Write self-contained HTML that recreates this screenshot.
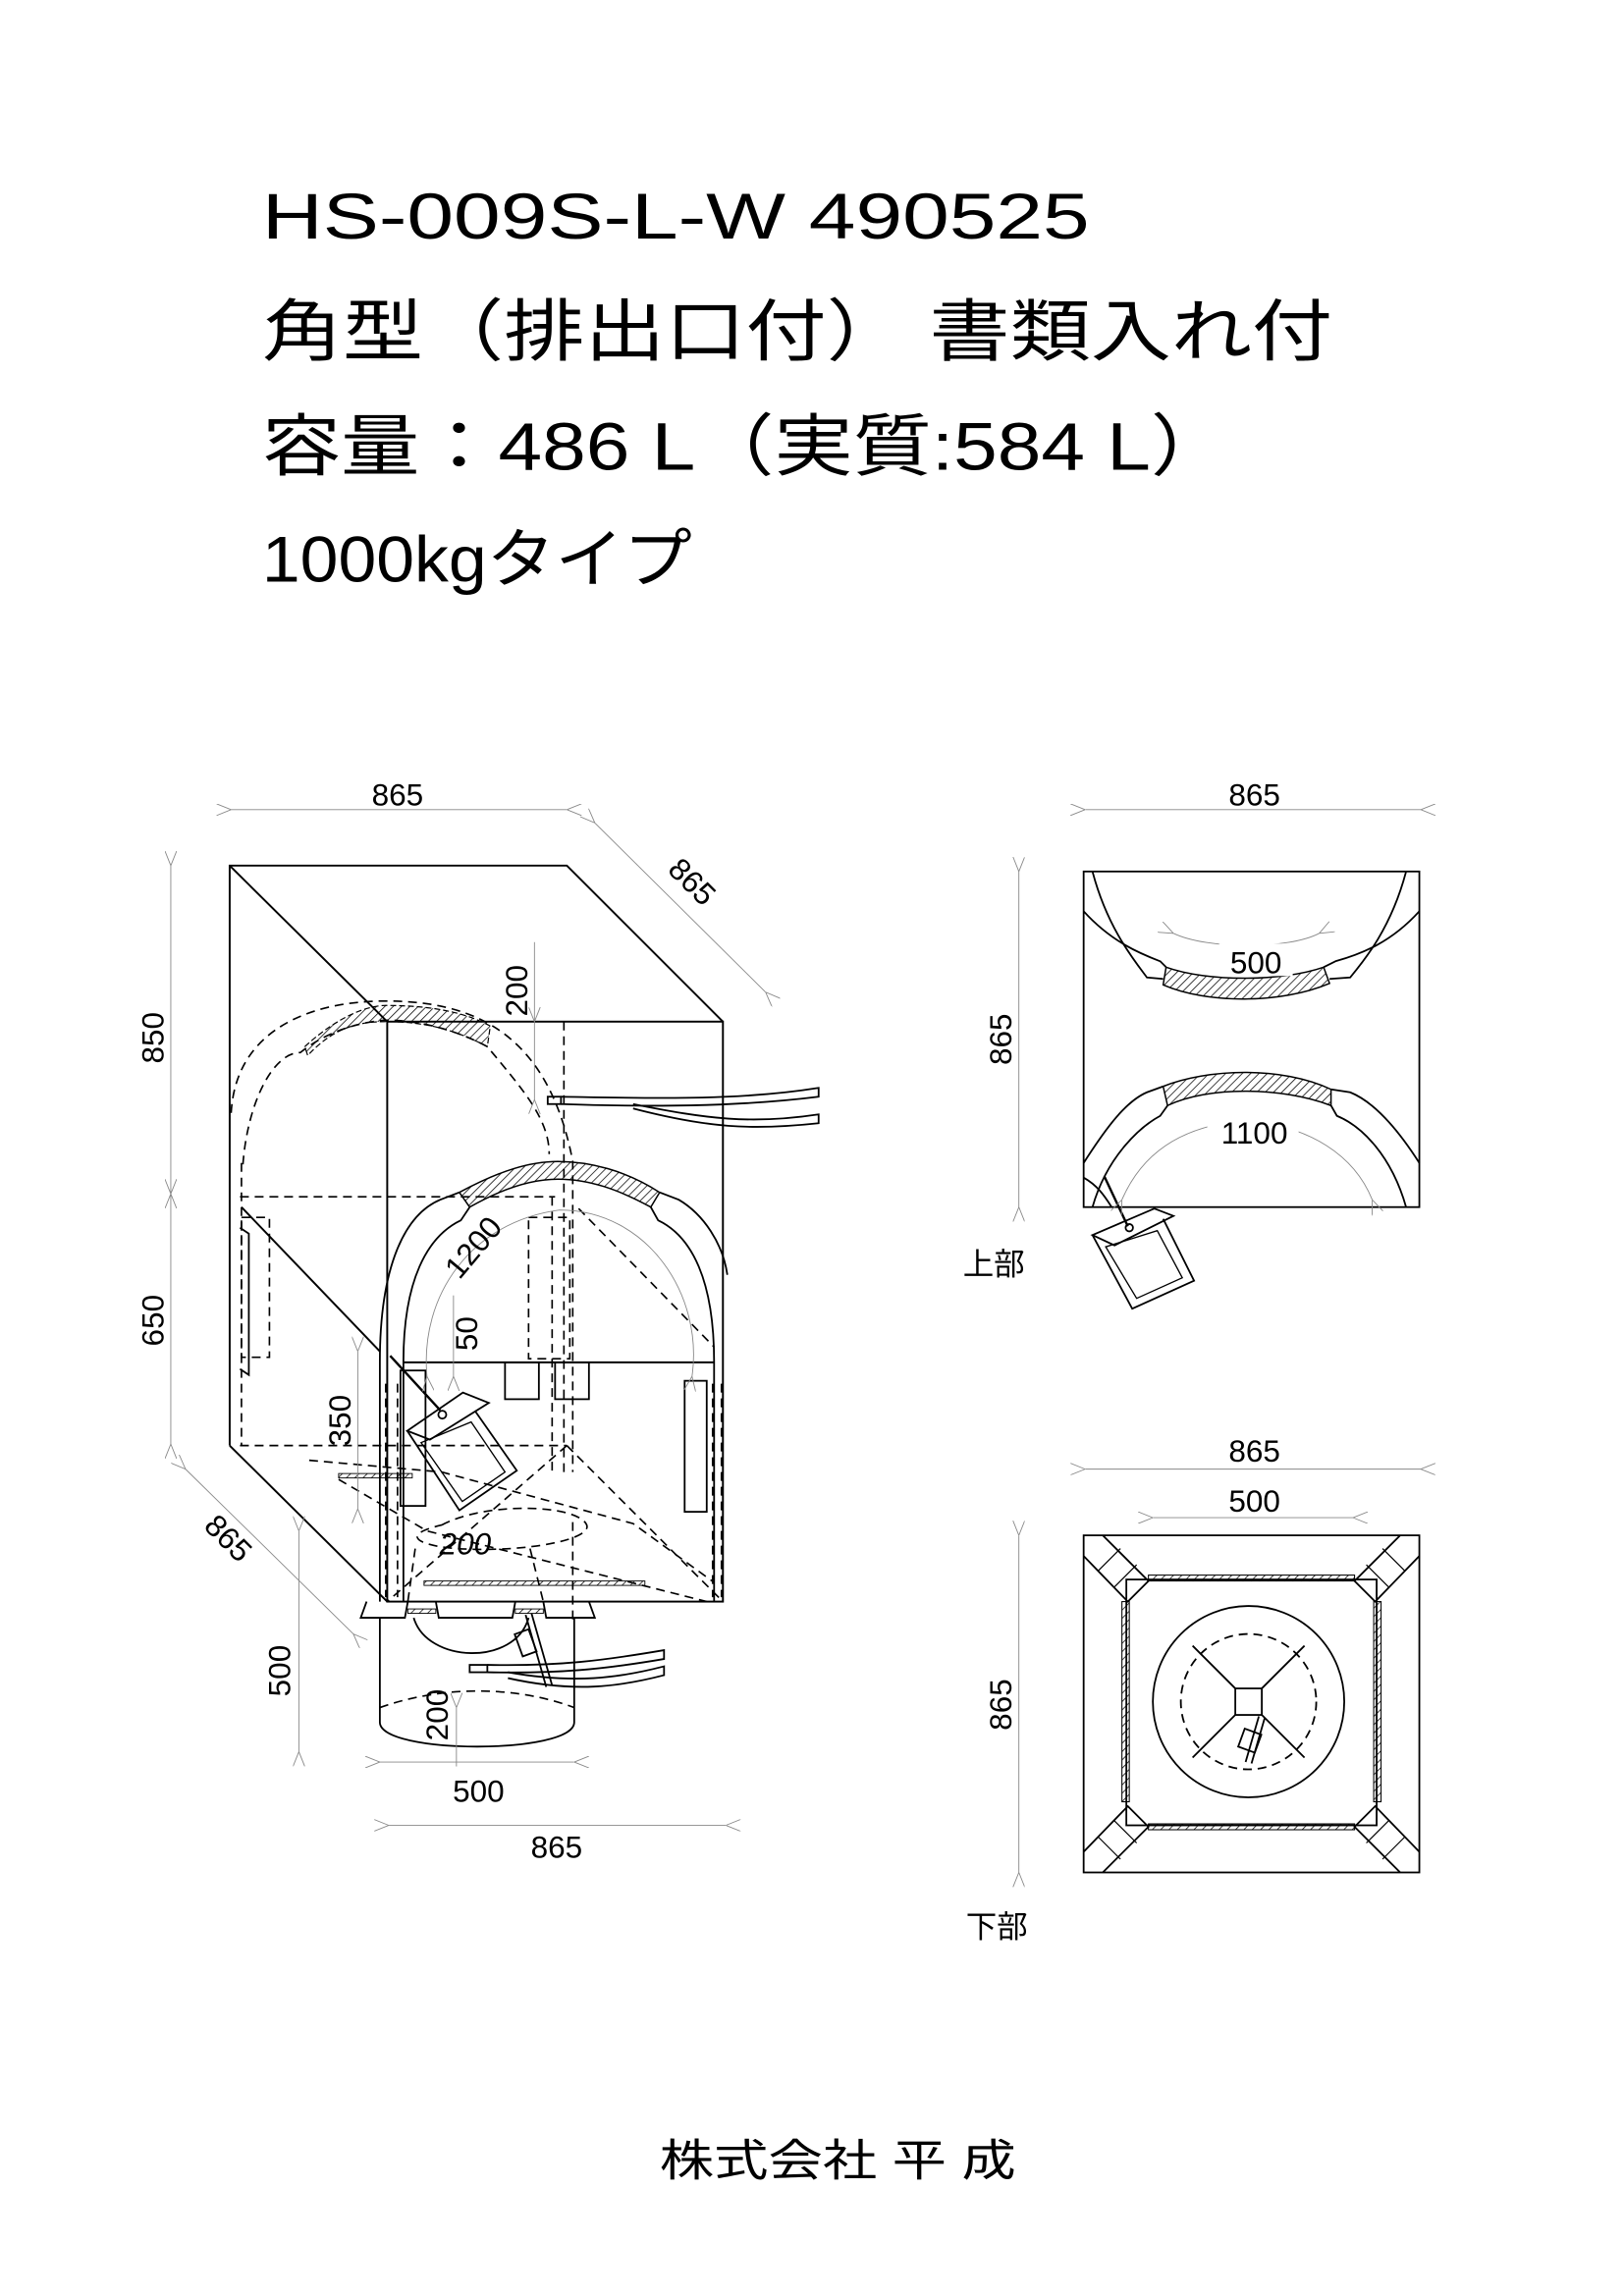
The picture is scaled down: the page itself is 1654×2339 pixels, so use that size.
<!DOCTYPE html>
<html><head><meta charset="utf-8"><style>
html,body{margin:0;padding:0;background:#fff}
svg{display:block}
text{font-family:"Liberation Sans","Noto Sans CJK JP",sans-serif;fill:#000}
</style></head><body>
<svg width="1654" height="2339" viewBox="0 0 1103 1559.7" xmlns="http://www.w3.org/2000/svg">
<defs>
<pattern id="h" width="4" height="4" patternUnits="userSpaceOnUse" patternTransform="rotate(45)">
<line x1="0" y1="0" x2="0" y2="4" stroke="#000" stroke-width="1"/></pattern>
<marker id="a" markerWidth="10" markerHeight="8" refX="0" refY="4" orient="auto-start-reverse" markerUnits="userSpaceOnUse">
<path d="M10,0 L0,4 L10,8" fill="none" stroke="#888" stroke-width="0.6"/></marker>
</defs>
<rect width="1103" height="1560" fill="#fff"/>

<!-- titles -->
<text x="178" y="162" font-size="44" textLength="562" lengthAdjust="spacingAndGlyphs">HS-009S-L-W  490525</text>
<text x="178" y="241" font-size="46" textLength="727" lengthAdjust="spacingAndGlyphs">角型（排出口付） 書類入れ付</text>
<text x="178" y="319" font-size="46" textLength="657" lengthAdjust="spacingAndGlyphs">容量：486 L（実質:584 L）</text>
<text x="178" y="395" font-size="44" textLength="292" lengthAdjust="spacingAndGlyphs">1000kgタイプ</text>

<g fill="none" stroke="#000" stroke-width="1.3">
<!-- back box -->
<polyline points="156,982 156,588 385,588 491,694"/>
<line x1="156" y1="588" x2="263" y2="694"/>
<line x1="156" y1="982" x2="263" y2="1088"/>
<line x1="164" y1="820" x2="258" y2="918"/>
<!-- front face -->
<rect x="263" y="694" width="228" height="394"/>
<line x1="274" y1="925.5" x2="485" y2="925.5"/>
</g>
<!-- hidden lines -->
<g fill="none" stroke="#000" stroke-width="1.1" stroke-dasharray="6,4">
<line x1="383" y1="694" x2="383" y2="1000"/>
<line x1="375" y1="813" x2="375" y2="1000"/>
<line x1="163" y1="813" x2="377" y2="813"/>
<line x1="164" y1="790" x2="164" y2="982"/>
<line x1="163" y1="982" x2="385" y2="982"/>
<line x1="385" y1="982" x2="491" y2="1088"/>
<line x1="385" y1="982" x2="263" y2="1088"/>
<line x1="393" y1="821" x2="485" y2="915"/>
<rect x="359" y="827" width="28" height="96"/>
<rect x="164" y="827" width="19" height="95"/>
<!-- back arch -->
<path d="M157,756 C160,700 210,680 262,680 C320,680 372,700 389,789 L389,1000"/>
<path d="M165,791 C168,750 185,715 204,715 C230,694 262,693 262,693 C300,693 331,711 331,711 C355,740 373,760 373,784"/>
<!-- bottom cone inside -->
<path d="M300,1036 C330,1020 390,1022 398,1035 C405,1045 360,1055 310,1052 C285,1050 270,1043 300,1036"/>
<line x1="282" y1="1052" x2="277" y2="1088"/>
<line x1="360" y1="1052" x2="369" y2="1088"/>
<line x1="389" y1="1034" x2="389" y2="1100"/>
<path d="M210,992 L300,1000 L430,1035 L485,1075"/>
<path d="M230,1005 L290,1040 L480,1088"/>
<!-- spout top dashed -->
<path d="M258,1160 C300,1145 350,1145 390,1160"/>
<!-- side legs dashed -->
<line x1="262" y1="940" x2="262" y2="1085"/>
<line x1="270" y1="940" x2="270" y2="1085"/>
<line x1="484" y1="940" x2="484" y2="1085"/>
<line x1="490" y1="940" x2="490" y2="1085"/>
</g>
<!-- hatched bands -->
<path d="M207,711 C230,690 250,683 262,683 C300,683 320,690 333,697 L331,711 C310,700 290,694 262,694 C240,694 225,700 209,717 Z" fill="url(#h)" stroke="#000" stroke-width="0.8" stroke-dasharray="4,2"/>
<path d="M312,810 C340,795 360,789 379,789 C400,789 425,795 448,810 L442,820 C420,808 400,801 379,801 C360,801 340,808 319,820 Z" fill="url(#h)" stroke="#000" stroke-width="1"/>
<g fill="url(#h)" stroke="#000" stroke-width="0.6">
<rect x="230" y="1001" width="50" height="3"/>
<rect x="288" y="1074" width="150" height="3"/>
<rect x="277" y="1093" width="19" height="3"/>
<rect x="350" y="1093" width="19" height="3"/>
</g>
<g fill="none" stroke="#000" stroke-width="1.2">
<!-- front arch -->
<path d="M258,1088 L258,925 C258,860 275,825 299,815 L312,810"/>
<path d="M448,810 L461,815 C478,825 491,845 494,866"/>
<path d="M274,1088 L274,925 C274,870 290,840 313,829 L319,820"/>
<path d="M442,820 L447,829 C470,840 485,870 485,925 L485,1088"/>
<!-- left side pocket -->
<polyline points="163,834 169,838 169,934 163,930"/>
<rect x="272" y="931" width="17" height="92"/>
<rect x="465" y="938" width="15" height="89"/>
<rect x="343" y="925.5" width="23" height="25"/>
<rect x="377" y="925.5" width="23" height="25"/>
<!-- skirt -->
<path d="M249,1088 L245,1099 L275,1099 L277,1088 M296,1088 L298,1099 L348,1099 L350,1088 M369,1088 L371,1099 L404,1099 L400,1088"/>
<!-- spout -->
<line x1="258" y1="1099" x2="258" y2="1170"/>
<line x1="390" y1="1099" x2="390" y2="1170"/>
<path d="M258,1170 C258,1192 390,1192 390,1170"/>
<path d="M281,1099 C290,1130 350,1132 359,1099"/>
<!-- cord -->
<path d="M357,1097 L371,1146 M361,1096 L375,1145"/>
<rect x="352" y="1108" width="10" height="16" transform="rotate(-20 357 1116)"/>
<!-- ribbons bottom -->
<rect x="319" y="1131" width="12" height="5"/>
<path d="M331,1131 C380,1132 410,1128 451,1121 L451,1127 C410,1134 380,1137 331,1136"/>
<path d="M345,1136 C390,1144 420,1140 451,1132 L451,1138 C420,1146 390,1150 345,1140"/>
<!-- top strap -->
<rect x="372" y="745" width="9" height="5"/>
<path d="M381,745 C440,746 500,748 556,739 L556,745 C500,752 440,752 381,750"/>
<path d="M430,750 C480,760 510,764 556,757 L556,763 C510,768 480,766 430,753"/>
<!-- pocket -->
<line x1="265" y1="921" x2="299" y2="958" stroke-width="1.6"/>
<polygon points="276.6,972 314.4,946 332,953 292,978"/>
<polyline points="276.6,972 312,1026 351,999 323,959"/>
<polygon points="286,980 314,1020 343,1000 320,966" stroke-width="0.9"/>
<circle cx="300.4" cy="961" r="2.7"/>
</g>

<!-- dimensions left -->
<g stroke="#888" stroke-width="0.6" fill="none">
<line x1="157" y1="550" x2="385" y2="550" marker-start="url(#a)" marker-end="url(#a)"/>
<line x1="404" y1="559" x2="520" y2="674" marker-start="url(#a)" marker-end="url(#a)"/>
<line x1="116" y1="588" x2="116" y2="811" marker-start="url(#a)" marker-end="url(#a)"/>
<line x1="116" y1="811" x2="116" y2="981" marker-start="url(#a)" marker-end="url(#a)"/>
<line x1="363" y1="694" x2="363" y2="747" marker-start="url(#a)" marker-end="url(#a)"/>
<line x1="363" y1="640" x2="363" y2="694"/>
<line x1="126" y1="998" x2="240" y2="1110" marker-start="url(#a)" marker-end="url(#a)"/>
<line x1="203" y1="1040" x2="203" y2="1190" marker-start="url(#a)" marker-end="url(#a)"/>
<line x1="243" y1="918" x2="243" y2="1025" marker-start="url(#a)" marker-end="url(#a)"/>
<line x1="308" y1="880" x2="308" y2="935" marker-end="url(#a)"/>
<line x1="258" y1="1197" x2="390" y2="1197" marker-start="url(#a)" marker-end="url(#a)"/>
<line x1="264" y1="1240" x2="493" y2="1240" marker-start="url(#a)" marker-end="url(#a)"/>
<line x1="310" y1="1160" x2="310" y2="1200" marker-start="url(#a)"/>
<path d="M290,935 C285,880 320,830 380,822 C440,822 478,880 470,935" marker-start="url(#a)" marker-end="url(#a)"/>
</g>
<g font-size="21">
<text x="270" y="547" text-anchor="middle">865</text>
<text x="0" y="0" text-anchor="middle" transform="translate(465,604) rotate(45)">865</text>
<text x="0" y="0" text-anchor="middle" transform="translate(111,705) rotate(-90)">850</text>
<text x="0" y="0" text-anchor="middle" transform="translate(111,897) rotate(-90)">650</text>
<text x="0" y="0" text-anchor="middle" transform="translate(358,673) rotate(-90)">200</text>
<text x="0" y="0" text-anchor="middle" transform="translate(150,1050) rotate(45)">865</text>
<text x="0" y="0" text-anchor="middle" transform="translate(197,1135) rotate(-90)">500</text>
<text x="0" y="0" text-anchor="middle" transform="translate(238,965) rotate(-90)">350</text>
<text x="0" y="0" text-anchor="middle" transform="translate(324,906) rotate(-90)">50</text>
<text x="0" y="0" text-anchor="middle" transform="translate(327,852) rotate(-50)">1200</text>
<text x="316" y="1056" text-anchor="middle" font-style="italic">200</text>
<text x="0" y="0" text-anchor="middle" transform="translate(304,1165) rotate(-90)">200</text>
<text x="325" y="1224" text-anchor="middle">500</text>
<text x="378" y="1262" text-anchor="middle">865</text>
</g>

<!-- top view -->
<g fill="none" stroke="#000" stroke-width="1.2">
<rect x="736" y="592" width="228" height="228"/>
<path d="M742,592 C752,630 770,652 779,664 L790,665"/>
<path d="M736,619 C755,640 775,648 788,653 L792,657"/>
<path d="M955,592 C945,630 927,652 917,664 L903,665"/>
<path d="M964,619 C945,640 925,648 907,653 L899,657"/>
<path d="M736,790 C752,765 765,748 779,742 L790,738"/>
<path d="M742,820 C752,785 775,765 788,758 L793,751"/>
<path d="M964,790 C948,765 932,748 917,742 L904,740"/>
<path d="M955,820 C945,785 925,765 908,758 L904,751"/>
<path d="M750,799 L766,833" stroke-width="1.6"/>
<path d="M736,800 C745,805 750,812 755,820"/>
<polygon points="742,839 784,821 797,826 757,846"/>
<polyline points="742,839 769,889 811,870 790,828"/>
<polygon points="751,847 772,882 803,868 786,836" stroke-width="0.9"/>
<circle cx="767" cy="834" r="2.5"/>
</g>
<path d="M792,657 C820,667 870,667 899,657 L903,668 C870,682 820,682 790,669 Z" fill="url(#h)" stroke="#000" stroke-width="1"/>
<path d="M790,738 C820,726 870,724 904,740 L904,751 C870,738 820,738 793,751 Z" fill="url(#h)" stroke="#000" stroke-width="1"/>
<g stroke="#888" stroke-width="0.6" fill="none">
<line x1="737" y1="550" x2="965" y2="550" marker-start="url(#a)" marker-end="url(#a)"/>
<line x1="692" y1="592" x2="692" y2="820" marker-start="url(#a)" marker-end="url(#a)"/>
<path d="M797,634 C820,645 875,645 896,634" marker-start="url(#a)" marker-end="url(#a)"/>
<path d="M762,815 C775,785 800,765 846,761 C890,765 920,785 932,815" marker-start="url(#a)" marker-end="url(#a)"/>
</g>
<g font-size="21">
<text x="852" y="547" text-anchor="middle">865</text>
<text x="0" y="0" text-anchor="middle" transform="translate(687,706) rotate(-90)">865</text>
<rect x="828" y="641" width="50" height="22" fill="#fff"/>
<text x="853" y="661" text-anchor="middle">500</text>
<rect x="820" y="758" width="62" height="22" fill="#fff"/>
<text x="852" y="777" text-anchor="middle">1100</text>
<text x="654" y="866" font-size="21">上部</text>
</g>

<!-- bottom view -->
<g fill="none" stroke="#000" stroke-width="1.2">
<rect x="736" y="1043" width="228" height="229"/>
<rect x="765" y="1073" width="170" height="167"/>
<circle cx="848" cy="1156" r="65"/>
<circle cx="848" cy="1156" r="46" stroke-dasharray="6,4"/>
<rect x="839" y="1147" width="18" height="18"/>
<path d="M839,1147 L810,1118 M857,1147 L886,1118 M839,1165 L810,1194 M857,1165 L886,1194"/>
<path d="M855,1166 L846,1197 M859,1167 L850,1198"/>
<rect x="843" y="1176" width="12" height="13" transform="rotate(20 849 1182)"/>
<!-- corner straps -->
<g id="cs">
<path d="M749,1043 L780,1074 L766,1088 L736,1057"/>
<path d="M761,1052 L746,1067 M772,1063 L757,1078" stroke-width="0.8"/>
</g>
<use href="#cs" transform="translate(1700,0) scale(-1,1)"/>
<use href="#cs" transform="translate(0,2315) scale(1,-1)"/>
<use href="#cs" transform="translate(1700,2315) scale(-1,-1)"/>
</g>
<g fill="url(#h)" stroke="#000" stroke-width="0.7">
<rect x="780" y="1070" width="140" height="4"/>
<rect x="780" y="1239" width="140" height="4"/>
<rect x="762" y="1088" width="5" height="136"/>
<rect x="933" y="1088" width="5" height="136"/>
</g>
<g stroke="#888" stroke-width="0.6" fill="none">
<line x1="737" y1="998" x2="965" y2="998" marker-start="url(#a)" marker-end="url(#a)"/>
<line x1="783" y1="1031" x2="919" y2="1031" marker-start="url(#a)" marker-end="url(#a)"/>
<line x1="692" y1="1043" x2="692" y2="1272" marker-start="url(#a)" marker-end="url(#a)"/>
</g>
<g font-size="21">
<text x="852" y="993" text-anchor="middle">865</text>
<text x="852" y="1027" text-anchor="middle">500</text>
<text x="0" y="0" text-anchor="middle" transform="translate(687,1158) rotate(-90)">865</text>
<text x="656" y="1316">下部</text>
</g>

<text x="448" y="1478" font-size="30" textLength="242" lengthAdjust="spacingAndGlyphs">株式会社 平 成</text>
</svg>
</body></html>
